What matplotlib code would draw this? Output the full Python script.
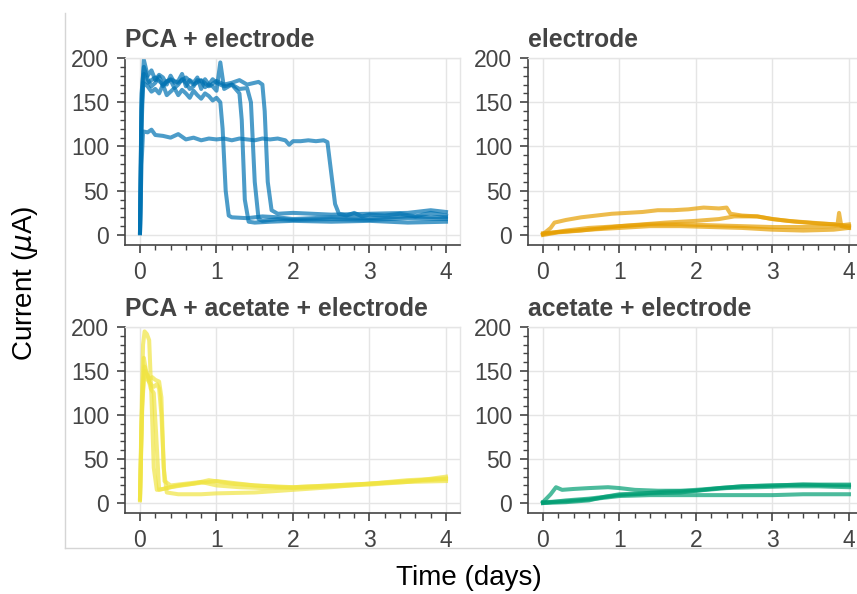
import numpy as np
import matplotlib
matplotlib.use("Agg")
import matplotlib.pyplot as plt
from matplotlib.ticker import FixedLocator
from matplotlib.lines import Line2D

plt.rcParams['font.family'] = ['Liberation Sans', 'DejaVu Sans']

# ---- data ----
titles = ["PCA + electrode", "electrode", "PCA + acetate + electrode", "acetate + electrode"]
colors = ["#0072B2", "#E69F00", "#F0E442", "#009E73"]

# PCA + electrode
pca_t1 = [0, 0.02, 0.04, 0.1, 0.15, 0.2, 0.3, 0.4, 0.5, 0.6, 0.7, 0.8, 0.9, 1.0, 1.1, 1.2, 1.3, 1.4, 1.5, 1.6, 1.7,
          1.8, 1.9, 1.95, 2.0, 2.1, 2.2, 2.3, 2.4, 2.45, 2.5, 2.55, 2.6, 2.7, 2.8, 2.9, 3.0, 3.2, 3.4, 3.6, 3.8, 4.0]
pca_y1 = [2, 80, 117, 116, 119, 113, 112, 110, 114, 108, 110, 107, 109, 108, 109, 107, 109, 108, 107, 109, 108,
          109, 107, 102, 106, 106, 107, 106, 107, 105, 70, 35, 24, 22, 25, 21, 23, 22, 24, 21, 25, 22]
pca_t2 = [0, 0.02, 0.04, 0.1, 0.15, 0.2, 0.25, 0.3, 0.35, 0.4, 0.45, 0.5, 0.55, 0.6, 0.65, 0.7, 0.75, 0.8, 0.85,
          0.9, 0.95, 1.0, 1.05, 1.08, 1.12, 1.16, 1.2, 1.4, 1.6, 1.8, 2.0, 2.5, 3.0, 3.5, 4.0]
pca_y2 = [3, 120, 172, 168, 162, 165, 160, 170, 158, 162, 166, 158, 164, 160, 155, 163, 158, 154, 160,
          157, 152, 155, 150, 120, 50, 22, 20, 19, 21, 20, 18, 20, 19, 21, 20]
pca_t3 = [0, 0.02, 0.05, 0.1, 0.15, 0.2, 0.25, 0.3, 0.35, 0.4, 0.45, 0.5, 0.55, 0.6, 0.65, 0.7, 0.75, 0.8, 0.85,
          0.9, 0.95, 1.0, 1.05, 1.1, 1.2, 1.3, 1.33, 1.37, 1.42, 1.5, 1.7, 2.0, 2.5, 3.0, 3.5, 4.0]
pca_y3 = [2, 150, 198, 180, 186, 175, 181, 178, 170, 180, 172, 174, 182, 168, 175, 172, 178, 165, 176,
          170, 168, 163, 195, 165, 170, 160, 130, 40, 15, 14, 15, 16, 15, 16, 14, 15]
pca_t4 = [0, 0.02, 0.05, 0.1, 0.15, 0.2, 0.25, 0.3, 0.35, 0.4, 0.45, 0.5, 0.55, 0.6, 0.65, 0.7, 0.75, 0.8,
          0.85, 0.9, 0.95, 1.0, 1.1, 1.2, 1.3, 1.4, 1.45, 1.5, 1.55, 1.6, 1.8, 2.0, 2.5, 3.0, 3.5, 4.0]
pca_y4 = [4, 160, 190, 176, 168, 172, 179, 168, 174, 175, 166, 170, 176, 172, 165, 168, 175, 174, 167,
          170, 176, 172, 168, 170, 165, 166, 150, 60, 18, 16, 18, 17, 18, 17, 19, 18]
pca_t5 = [0, 0.02, 0.05, 0.1, 0.2, 0.3, 0.4, 0.5, 0.6, 0.7, 0.8, 0.9, 1.0, 1.1, 1.2, 1.3, 1.4, 1.5, 1.55,
          1.6, 1.63, 1.67, 1.72, 1.8, 2.0, 2.5, 3.0, 3.5, 3.8, 4.0]
pca_y5 = [3, 140, 182, 172, 178, 170, 176, 172, 178, 170, 175, 168, 174, 170, 172, 175, 170, 172, 173,
          170, 140, 60, 28, 24, 25, 23, 24, 25, 28, 26]

# electrode
el_t1 = [0, 0.1, 0.15, 0.3, 0.5, 0.7, 0.9, 1.1, 1.3, 1.5, 1.7, 1.9, 2.1, 2.3, 2.4, 2.45, 2.6, 2.8, 3.0,
         3.2, 3.5, 3.8, 4.0]
el_y1 = [1, 8, 14, 17, 20, 22, 24, 25, 26, 28, 28, 29, 31, 30, 31, 24, 22, 21, 18, 16, 14, 12, 10]
el_t2 = [0, 0.2, 0.5, 0.8, 1.0, 1.3, 1.6, 2.0, 2.3, 2.5, 2.8, 3.0, 3.3, 3.6, 3.85, 3.87, 3.9, 4.0]
el_y2 = [0, 3, 5, 8, 10, 12, 14, 16, 18, 21, 21, 18, 15, 13, 12, 25, 10, 8]
el_t3 = [0, 0.3, 0.6, 1.0, 1.4, 1.8, 2.2, 2.6, 3.0, 3.4, 3.8, 4.0]
el_y3 = [2, 4, 6, 8, 10, 10, 9, 8, 6, 5, 6, 8]
el_t4 = [0, 0.3, 0.6, 1.0, 1.4, 1.8, 2.2, 2.6, 3.0, 3.4, 3.8, 4.0]
el_y4 = [1, 5, 8, 10, 12, 12, 11, 10, 9, 9, 10, 12]

# PCA + acetate + electrode
pa_t1 = [0, 0.02, 0.04, 0.06, 0.09, 0.12, 0.15, 0.18, 0.22, 0.3, 0.5, 0.7, 0.9, 1.2, 1.5, 2.0, 2.5, 3.0, 3.5, 4.0]
pa_y1 = [5, 100, 180, 195, 192, 185, 120, 40, 15, 16, 20, 22, 26, 22, 20, 18, 20, 22, 25, 27]
pa_t2 = [0, 0.02, 0.05, 0.08, 0.12, 0.16, 0.2, 0.25, 0.28, 0.31, 0.35, 0.5, 0.8, 1.0, 1.5, 2.0, 2.5, 3.0, 3.5, 4.0]
pa_y2 = [4, 90, 165, 150, 140, 143, 140, 138, 120, 40, 12, 10, 10, 11, 12, 15, 18, 22, 24, 25]
pa_t3 = [0, 0.03, 0.06, 0.1, 0.14, 0.18, 0.22, 0.25, 0.28, 0.32, 0.4, 0.6, 0.8, 1.0, 1.3, 1.6, 2.0, 2.5,
         3.0, 3.5, 4.0]
pa_y3 = [3, 110, 155, 140, 135, 132, 135, 130, 100, 25, 20, 22, 24, 20, 18, 17, 18, 20, 22, 26, 28]
pa_t4 = [0, 0.03, 0.06, 0.1, 0.14, 0.18, 0.21, 0.25, 0.4, 0.7, 1.0, 1.5, 2.0, 2.5, 3.0, 3.5, 4.0]
pa_y4 = [6, 120, 150, 145, 130, 125, 80, 15, 18, 22, 25, 20, 17, 19, 21, 24, 30]

# acetate + electrode
ac_t1 = [0, 0.1, 0.17, 0.25, 0.4, 0.6, 0.85, 1.0, 1.2, 1.5, 1.8, 2.0, 2.3, 2.6, 3.0, 3.4, 3.8, 4.0]
ac_y1 = [1, 10, 18, 15, 16, 17, 18, 17, 15, 14, 14, 15, 17, 19, 20, 21, 20, 20]
ac_t2 = [0, 0.3, 0.6, 0.8, 1.0, 1.3, 1.6, 2.0, 2.3, 2.6, 3.0, 3.4, 3.8, 4.0]
ac_y2 = [0, 1, 3, 7, 10, 11, 13, 14, 17, 19, 20, 21, 21, 21]
ac_t3 = [0, 0.3, 0.6, 1.0, 1.4, 1.8, 2.2, 2.6, 3.0, 3.4, 3.8, 4.0]
ac_y3 = [1, 2, 4, 8, 9, 9, 9, 9, 9, 10, 10, 10]
ac_t4 = [0, 0.3, 0.6, 1.0, 1.4, 1.8, 2.0, 2.4, 2.8, 3.2, 3.6, 4.0]
ac_y4 = [0, 3, 5, 9, 11, 12, 14, 17, 18, 19, 19, 18]

panels = [
    [(pca_t1, pca_y1), (pca_t2, pca_y2), (pca_t3, pca_y3), (pca_t4, pca_y4), (pca_t5, pca_y5)],
    [(el_t1, el_y1), (el_t2, el_y2), (el_t3, el_y3), (el_t4, el_y4)],
    [(pa_t1, pa_y1), (pa_t2, pa_y2), (pa_t3, pa_y3), (pa_t4, pa_y4)],
    [(ac_t1, ac_y1), (ac_t2, ac_y2), (ac_t3, ac_y3), (ac_t4, ac_y4)],
]

W, H = 857, 594
fig = plt.figure(figsize=(W / 100, H / 100), dpi=100)

# axes boxes in pixels: left, top, width, height
boxes = [(125, 58, 335, 187), (528, 58, 335, 187), (125, 327, 335, 186), (528, 327, 335, 186)]

dark = "#444444"
light = "#e5e5e5"

for i, (l, t, w, h) in enumerate(boxes):
    ax = fig.add_axes([l / W, 1 - (t + h) / H, w / W, h / H])
    for tt, yy in panels[i]:
        ax.plot(tt, yy, color=colors[i], lw=2.9, alpha=0.7, solid_joinstyle='round')
    ax.set_xlim(-0.196, 4.183)
    ax.set_ylim(-11.3, 200)
    ax.xaxis.set_major_locator(FixedLocator([0, 1, 2, 3, 4]))
    ax.xaxis.set_minor_locator(FixedLocator(np.arange(0, 4.01, 0.2)))
    ax.yaxis.set_major_locator(FixedLocator([0, 50, 100, 150, 200]))
    ax.yaxis.set_minor_locator(FixedLocator(np.arange(0, 201, 10)))
    ax.grid(True, which='major', color=light, lw=1)
    ax.set_axisbelow(True)
    for s in ['left', 'bottom']:
        ax.spines[s].set_color(dark)
        ax.spines[s].set_linewidth(1.2)
    for s in ['top', 'right']:
        ax.spines[s].set_color(light)
        ax.spines[s].set_linewidth(1)
    ax.tick_params(which='major', direction='out', length=5.5, width=1.2, color=dark,
                   labelsize=16.5, labelcolor=dark)
    ax.tick_params(which='minor', direction='out', length=3.5, width=1, color=dark)
    ax.tick_params(axis='y', which='major', pad=6)
    ax.tick_params(axis='x', which='major', pad=6)
    ax.set_title(titles[i], loc='left', fontsize=17.8, fontweight='bold', color=dark, pad=8)

# outer frame of the grid
fig.add_artist(Line2D([65 / W, 65 / W], [1 - 13 / H, 1 - 548 / H], color="#d5d5d5", lw=1))
fig.add_artist(Line2D([65 / W, 1.0], [1 - 548 / H, 1 - 548 / H], color="#d5d5d5", lw=1))

fig.text(25 / W, 1 - 283 / H, r"Current ($\mu$A)", rotation=90, ha='center', va='center', fontsize=20)
fig.text(469 / W, 1 - 578 / H, "Time (days)", ha='center', va='center', fontsize=20)

fig.savefig("out.png", dpi=100)
